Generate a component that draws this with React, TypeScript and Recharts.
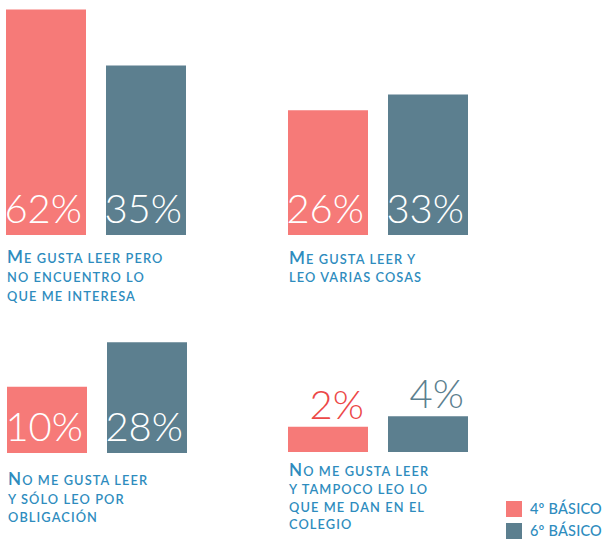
import React from 'react';
import { BarChart, Bar, XAxis, YAxis, LabelList } from 'recharts';

// categories (caption lines split by \n) and values per grade
const categories = [
  'Me gusta leer pero\nno encuentro lo\nque me interesa',
  'Me gusta leer y\nleo varias cosas',
  'No me gusta leer\ny sólo leo por\nobligación',
  'No me gusta leer\ny tampoco leo lo\nque me dan en el\ncolegio',
];
const basico4 = [62, 26, 10, 2];
const basico6 = [35, 33, 28, 4];
const seriesNames = ['4º BÁSICO', '6º BÁSICO'];

const CORAL = '#F67A78';
const SLATE = '#5C7F8F';
const CORAL_TEXT = '#EC4848';
const CAPTION = '#2E8CBE';
const FONT = "Lato, 'Open Sans', sans-serif";

// panel placement (layout only)
const panels = [
  { left: -4, top: 0, plot: 235, axis: 70, yMax: 67.3, first: 27.5, gap: 19 },
  { left: 278, top: 0, plot: 235, axis: 70, yMax: 92.2, first: 28.8, gap: 18.5 },
  { left: -3, top: 305, plot: 148, axis: 80, yMax: 50, first: 32, gap: 18.7 },
  { left: 278, top: 305, plot: 147, axis: 87, yMax: 67.4, first: 24, gap: 17.8 },
];

const makeLabel = (outColor: string) => (props: any) => {
  const x = Number(props.x);
  const y = Number(props.y);
  const width = Number(props.width);
  const height = Number(props.height);
  const inside = height > 50;
  return (
    <text
      x={x + width - 4}
      y={inside ? y + height - 12 : y - 8}
      textAnchor="end"
      fill={inside ? '#ffffff' : outColor}
      fontSize={40}
      fontFamily={FONT}
      fontWeight={300}
    >
      {props.value}%
    </text>
  );
};

// split a line into runs of capitals (full size) and lower case (small caps)
const smallCapsRuns = (line: string) => {
  const runs: { big: boolean; text: string }[] = [];
  for (const ch of line) {
    const big = ch !== ch.toLowerCase();
    const last = runs[runs.length - 1];
    if (last && last.big === big) last.text += ch.toUpperCase();
    else runs.push({ big, text: ch.toUpperCase() });
  }
  return runs;
};

const CaptionTick = (props: any) => {
  const { x, y, payload, first, gap } = props;
  const lines = String(payload.value).split('\n');
  const left = Number(x) - 89;
  return (
    <g>
      {lines.map((l, i) => (
        <text
          key={i}
          x={left}
          y={Number(y) + first + i * gap}
          fill={CAPTION}
          fontFamily={FONT}
          fontWeight={600}
          style={{ letterSpacing: 1.1 }}
        >
          {smallCapsRuns(l).map((r, j) => (
            <tspan key={j} fontSize={r.big ? 17 : 12.8}>
              {r.text}
            </tspan>
          ))}
        </text>
      ))}
    </g>
  );
};

const Panel = ({ index }: { index: number }) => {
  const p = panels[index];
  const data = [{ name: categories[index], g4: basico4[index], g6: basico6[index] }];
  return (
    <div style={{ position: 'absolute', left: p.left, top: p.top }}>
      <BarChart
        width={200}
        height={p.plot + p.axis}
        data={data}
        margin={{ top: 0, right: 0, bottom: 0, left: 0 }}
        barGap={20}
      >
        <XAxis
          dataKey="name"
          axisLine={false}
          tickLine={false}
          tickSize={0}
          tickMargin={0}
          height={p.axis}
          interval={0}
          tick={(t: any) => <CaptionTick {...t} first={p.first} gap={p.gap} />}
        />
        <YAxis hide type="number" scale="sqrt" domain={[0, p.yMax]} />
        <Bar dataKey="g4" name={seriesNames[0]} fill={CORAL} barSize={80} isAnimationActive={false}>
          <LabelList dataKey="g4" content={makeLabel(CORAL_TEXT)} />
        </Bar>
        <Bar dataKey="g6" name={seriesNames[1]} fill={SLATE} barSize={80} isAnimationActive={false}>
          <LabelList dataKey="g6" content={makeLabel(SLATE)} />
        </Bar>
      </BarChart>
    </div>
  );
};

export default function App() {
  const colors = [CORAL, SLATE];
  return (
    <div
      style={{
        position: 'absolute',
        left: 0,
        top: 0,
        width: 603,
        height: 539,
        background: '#ffffff',
        overflow: 'hidden',
      }}
    >
      {panels.map((_, i) => (
        <Panel key={i} index={i} />
      ))}
      <div style={{ position: 'absolute', left: 506, top: 501 }}>
        {seriesNames.map((n, i) => (
          <div key={n} style={{ display: 'flex', alignItems: 'center', height: 16, marginBottom: 6 }}>
            <div style={{ width: 16, height: 16, background: colors[i], marginRight: 8 }} />
            <span
              style={{
                fontFamily: FONT,
                fontSize: 14.5,
                fontWeight: 500,
                color: CAPTION,
                letterSpacing: 0.2,
                whiteSpace: 'nowrap',
                lineHeight: '16px',
              }}
            >
              {n}
            </span>
          </div>
        ))}
      </div>
    </div>
  );
}
